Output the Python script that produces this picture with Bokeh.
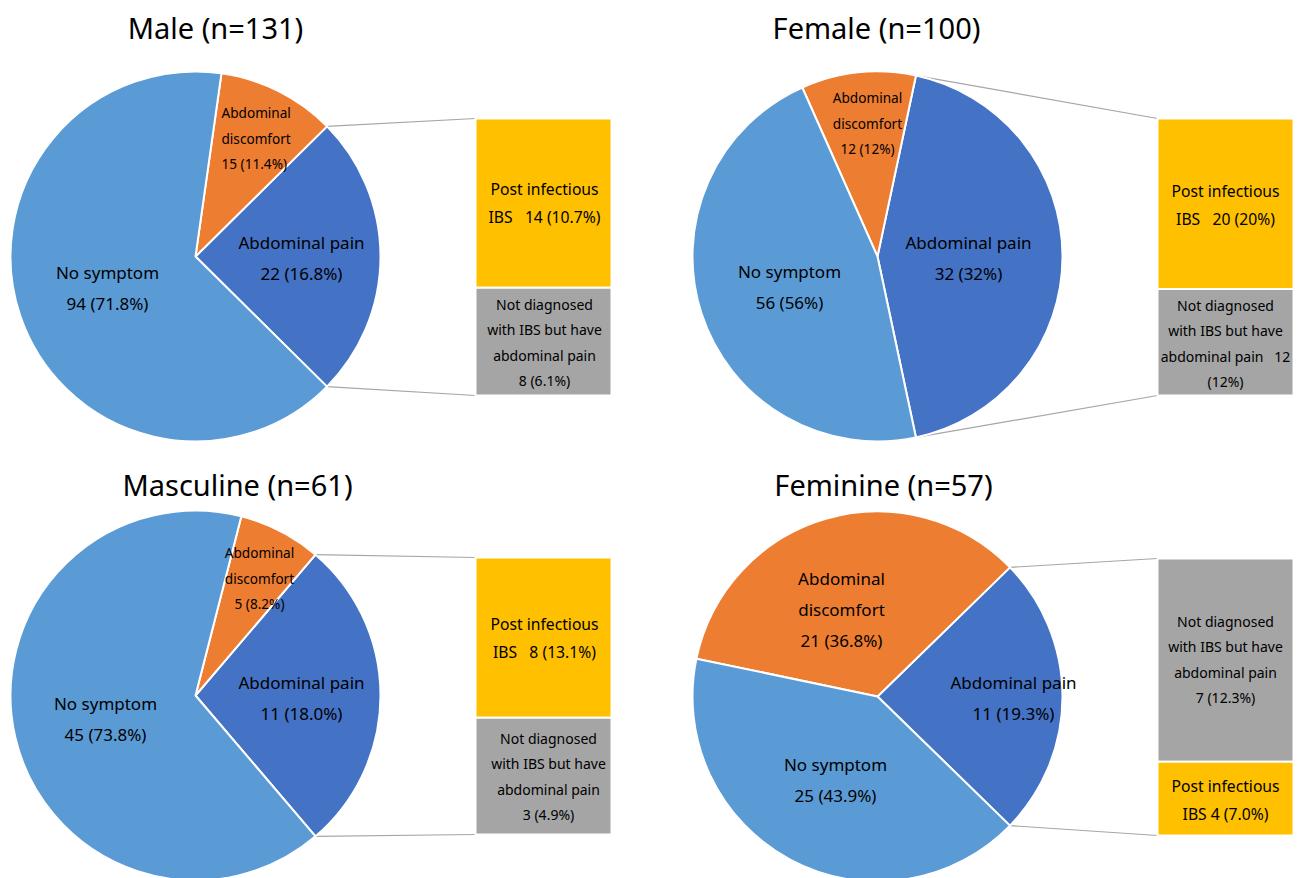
import math
from bokeh.plotting import figure
from bokeh.models import Range1d, ColumnDataSource
from bokeh.core.properties import value
from bokeh.embed import file_html
from bokeh.resources import INLINE

# ---------------- data ----------------
panel_titles = ["Male (n=131)", "Female (n=100)", "Masculine (n=61)", "Feminine (n=57)"]
# pie slices as drawn: no symptom, abdominal discomfort, split-out slice (= bar total)
no_symptom = [94, 56, 45, 25]
discomfort = [15, 12, 5, 21]
# stacked bar segments as drawn (top segment, bottom segment)
bar_top = [22, 32, 11, 11]
bar_bottom = [14, 20, 8, 4]
bar_top_is_pi = [True, True, True, False]   # which category the top segment shows

no_symptom_labels = ["94 (71.8%)", "56 (56%)", "45 (73.8%)", "25 (43.9%)"]
discomfort_labels = ["15 (11.4%)", "12 (12%)", "5 (8.2%)", "21 (36.8%)"]
pain_labels = ["22 (16.8%)", "32 (32%)", "11 (18.0%)", "11 (19.3%)"]
NB = "\u00a0"
pi_lines = [["Post infectious", "IBS" + NB * 3 + "14 (10.7%)"],
            ["Post infectious", "IBS" + NB * 3 + "20 (20%)"],
            ["Post infectious", "IBS" + NB * 3 + "8 (13.1%)"],
            ["Post infectious", "IBS 4 (7.0%)"]]
nd_lines = [["Not diagnosed", "with IBS but have", "abdominal pain", "8 (6.1%)"],
            ["Not diagnosed", "with IBS but have", "abdominal pain" + NB * 3 + "12", "(12%)"],
            ["Not diagnosed", "with IBS but have", "abdominal pain", "3 (4.9%)"],
            ["Not diagnosed", "with IBS but have", "abdominal pain", "7 (12.3%)"]]

# ---------------- layout (pixel positions, y measured from top) ----------------
W, H = 1298, 878
FONT = "Noto Sans"
C_NO, C_DIS, C_PAIN = "#5B9BD5", "#ED7D31", "#4472C4"
C_PI, C_ND = "#FFC000", "#A5A5A5"
R = 185
centers = [(195, 256), (877, 256), (195, 695), (877, 696)]
BAR_DX, BAR_W, BAR_UP, BAR_DN = 280, 136, 138, 139
title_pos = [(215, 27), (876, 27), (237, 484), (883, 484)]
# label layouts
ns_pos = [(107, 272), (789, 271), (105, 703), (835, 764)]
pain_pos = [(301, 242), (968, 242), (301, 682), (1013, 682)]
dis_pos = [(221, 112, 25.5, 13.6, "left"), (867, 97, 25.5, 13.6, "center"),
           (259, 552, 25.5, 13.6, "center"), (841, 578, 31, 17, "center")]
pi_pos = [(544, 188), (1225, 190), (544, 623), (1225, 785)]
nd_pos = [(544, 304), (1225, 305), (548, 738), (1225, 621)]
SZ_TITLE, SZ_MAIN, SZ_PI, SZ_ND = 29, 17, 15.7, 14


def Y(ypx):
    return H - ypx


p = figure(width=W, height=H, x_range=Range1d(0, W), y_range=Range1d(0, H),
           output_backend="svg", toolbar_location=None, min_border=0,
           x_axis_type=None, y_axis_type=None)
p.grid.visible = False
p.outline_line_color = None
p.background_fill_color = "white"
p.border_fill_color = "white"

tx, ty, tt, ts, ta = [], [], [], [], []


def add_lines(x, y0, lines, spacing, size, align="center"):
    for i, s in enumerate(lines):
        tx.append(x)
        ty.append(Y(y0 + i * spacing))
        tt.append(s)
        ts.append(f"{size}px")
        ta.append(align)


wx, wy, ws, we, wc = [], [], [], [], []
lx0, ly0, lx1, ly1 = [], [], [], []
ql, qr, qt, qb, qc = [], [], [], [], []

for k in range(4):
    cx, cypx = centers[k]
    cy = Y(cypx)
    split = bar_top[k] + bar_bottom[k]
    total = no_symptom[k] + discomfort[k] + split
    th = 2 * math.pi * split / total
    td = 2 * math.pi * discomfort[k] / total
    a0 = -th / 2
    a1 = th / 2
    a2 = a1 + td
    a3 = 2 * math.pi - th / 2
    for s, e, c in [(a0, a1, C_PAIN), (a1, a2, C_DIS), (a2, a3, C_NO)]:
        wx.append(cx); wy.append(cy); ws.append(s); we.append(e); wc.append(c)

    # stacked bar
    bl = cx + BAR_DX
    br = bl + BAR_W
    btop = Y(cypx - BAR_UP)
    bbot = Y(cypx + BAR_DN)
    hh = btop - bbot
    mid = btop - hh * bar_top[k] / split
    ctop = C_PI if bar_top_is_pi[k] else C_ND
    cbot = C_ND if bar_top_is_pi[k] else C_PI
    ql += [bl, bl]; qr += [br, br]; qt += [btop, mid]; qb += [mid, bbot]; qc += [ctop, cbot]

    # connector lines
    lx0 += [cx + R * math.cos(a1), cx + R * math.cos(a0)]
    ly0 += [cy + R * math.sin(a1), cy + R * math.sin(a0)]
    lx1 += [bl, bl]
    ly1 += [btop, bbot]

    # texts
    add_lines(title_pos[k][0], title_pos[k][1], [panel_titles[k]], 0, SZ_TITLE)
    add_lines(ns_pos[k][0], ns_pos[k][1], ["No symptom", no_symptom_labels[k]], 31, SZ_MAIN)
    add_lines(pain_pos[k][0], pain_pos[k][1], ["Abdominal pain", pain_labels[k]], 31, SZ_MAIN)
    dxp, dyp, dsp, dsz, dal = dis_pos[k]
    add_lines(dxp, dyp, ["Abdominal", "discomfort", discomfort_labels[k]], dsp, dsz, dal)
    add_lines(pi_pos[k][0], pi_pos[k][1], pi_lines[k], 28, SZ_PI)
    add_lines(nd_pos[k][0], nd_pos[k][1], nd_lines[k], 25.3, SZ_ND)

p.segment(x0=lx0, y0=ly0, x1=lx1, y1=ly1, line_color="#A6A6A6", line_width=1.2)
p.wedge(x=wx, y=wy, radius=R, start_angle=ws, end_angle=we, fill_color=wc,
        line_color="white", line_width=2)
p.quad(left=ql, right=qr, top=qt, bottom=qb, fill_color=qc, line_color="white", line_width=2)

src = ColumnDataSource(dict(x=tx, y=ty, text=tt, size=ts, align=ta))
p.text(x="x", y="y", text="text", source=src, text_font=value(FONT),
       text_font_size="size", text_align="align", text_baseline="middle",
       text_color="black")

open("out.html", "w").write(file_html(p, INLINE))
